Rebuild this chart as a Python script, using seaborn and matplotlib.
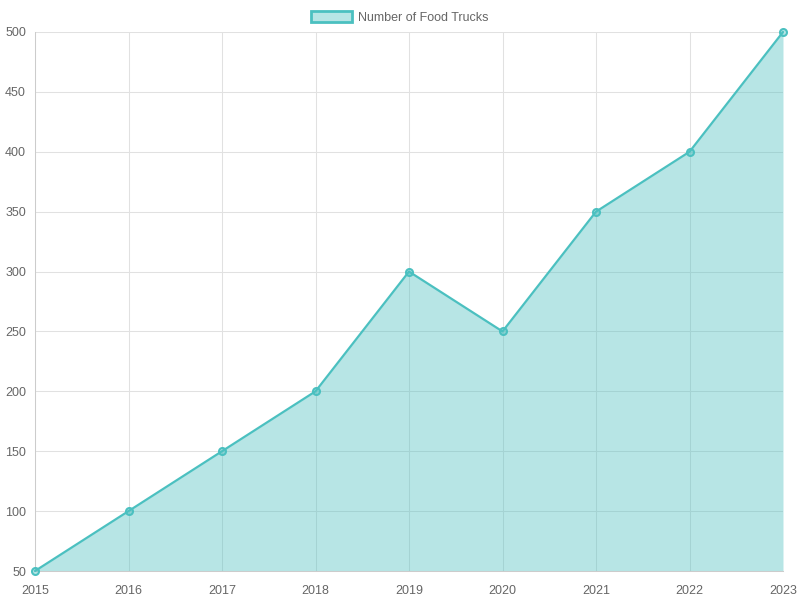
import matplotlib
matplotlib.use("Agg")
import matplotlib.pyplot as plt
import seaborn as sns
import pandas as pd
from matplotlib.patches import Patch

years = ["2015", "2016", "2017", "2018", "2019", "2020", "2021", "2022", "2023"]
trucks = [50, 100, 150, 200, 300, 250, 350, 400, 500]
yticks = [50, 100, 150, 200, 250, 300, 350, 400, 450, 500]
label = "Number of Food Trucks"

sns.set_theme(style="white")
plt.rcParams["font.family"] = ["Liberation Sans", "DejaVu Sans"]

line_c = (75/255, 192/255, 192/255)
fill_c = (75/255, 192/255, 192/255, 0.4)
grid_c = "#e1e1e1"
text_c = "#666666"

df = pd.DataFrame({"x": range(len(years)), "y": trucks})

fig = plt.figure(figsize=(8, 6), dpi=100)
ax = fig.add_axes([35/800, 1 - 571/600, (783 - 35)/800, (571 - 32)/600])

ax.fill_between(df["x"], df["y"], 50, color=fill_c, linewidth=0, zorder=2)
sns.lineplot(data=df, x="x", y="y", ax=ax, color=line_c, linewidth=1.6, zorder=3,
             marker="o", markersize=5, markerfacecolor=fill_c,
             markeredgecolor=line_c, markeredgewidth=1.5, clip_on=False)

ax.set_xlim(0, len(years) - 1)
ax.set_ylim(50, 500)
ax.set_xticks(range(len(years)))
ax.set_xticklabels(years)
ax.set_yticks(yticks)
ax.set_xlabel("")
ax.set_ylabel("")
ax.grid(True, color=grid_c, linewidth=0.75, zorder=0)
ax.set_axisbelow(True)
for s in ["top", "right"]:
    ax.spines[s].set_visible(False)
for s in ["left", "bottom"]:
    ax.spines[s].set_color("#cccccc")
    ax.spines[s].set_linewidth(0.75)
ax.tick_params(axis="both", colors=grid_c, labelcolor=text_c, labelsize=9,
               length=4.5, width=0.75, pad=2)
ax.tick_params(axis="x", pad=5.5)

handle = Patch(facecolor=fill_c, edgecolor=line_c, linewidth=2)
fig.legend([handle], [label], loc="upper center", bbox_to_anchor=(0.5, 1.003),
           frameon=False, fontsize=9, labelcolor=text_c,
           handlelength=3.3, handleheight=1.0, borderpad=0.5, handletextpad=0.5)

fig.savefig("out.png", dpi=100)
